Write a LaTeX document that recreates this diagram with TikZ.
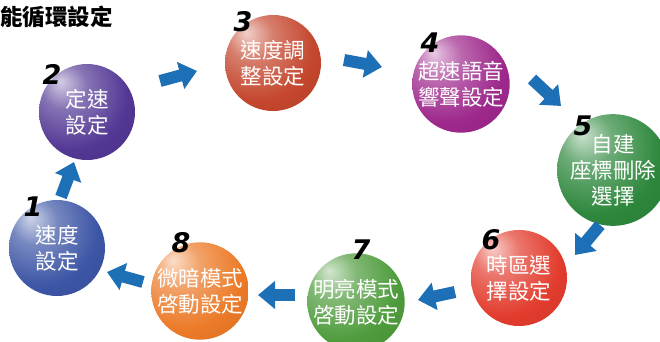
\documentclass[tikz,border=0pt]{standalone}
\usepackage{fontspec}
\newfontfamily\cjk{Noto Sans CJK TC}
\newfontfamily\digitfont{DejaVu Sans}
\usetikzlibrary{arrows.meta}

\definecolor{arrowblue}{RGB}{29,112,181}
\definecolor{cA}{RGB}{60,85,165}
\definecolor{cB}{RGB}{82,55,148}
\definecolor{cC}{RGB}{196,70,45}
\definecolor{cD}{RGB}{158,40,140}
\definecolor{cE}{RGB}{45,135,60}
\definecolor{cF}{RGB}{226,60,45}
\definecolor{cG}{RGB}{78,155,60}
\definecolor{cH}{RGB}{236,122,40}
\colorlet{mycol}{blue}
\pgfdeclareradialshading[mycol]{myball}{\pgfqpoint{-14bp}{16bp}}{%
  color(0bp)=(mycol!25!white); color(12bp)=(mycol!70!white);
  color(30bp)=(mycol); color(55bp)=(mycol!85!black); color(80bp)=(mycol!70!black)}

\tikzset{
  ballnode/.style={circle, minimum size=96pt, inner sep=0pt,
    /utils/exec={\colorlet{mycol}{#1}}, shading=myball,
    text=white, font=\cjk\fontsize{21.5}{26}\selectfont, align=center},
  digitnode/.style={inner sep=0pt, text=black,
    font=\digitfont\bfseries\itshape\fontsize{27}{27}\selectfont},
  flow/.style={draw=arrowblue, line width=12pt,
    -{Triangle[width=27pt,length=17pt]}},
}

\begin{document}
\begin{tikzpicture}[x=1pt,y=-1pt]
\useasboundingbox (0,0) rectangle (660,342);
\clip (0,0) rectangle (660,342);

\node[anchor=west, inner sep=0pt, font=\cjk\bfseries\fontsize{22.5}{22.5}\selectfont] (title) at (0,17) {能循環設定};

\node[ballnode=cA] (c1) at (57,248) {速度\\設定};
\node[ballnode=cB] (c2) at (87,112) {定速\\設定};
\node[ballnode=cC] (c3) at (273,63) {速度調\\整設定};
\node[ballnode=cD] (c4) at (461,84) {超速語音\\響聲設定};
\node[ballnode=cE] (c5) at (613,170) {自建\\座標刪除\\選擇};
\node[ballnode=cF] (c6) at (519,278) {時區選\\擇設定};
\node[ballnode=cG] (c7) at (356,302) {明亮模式\\啓動設定};
\node[ballnode=cH] (c8) at (200,291) {微暗模式\\啓動設定};

\node[digitnode] (n1) at (33,207) {1};
\node[digitnode] (n2) at (52,74) {2};
\node[digitnode] (n3) at (243,22) {3};
\node[digitnode] (n4) at (430,43) {4};
\node[digitnode] (n5) at (583,126) {5};
\node[digitnode] (n6) at (491,240) {6};
\node[digitnode] (n7) at (361,250) {7};
\node[digitnode] (n8) at (181,243) {8};

\coordinate (a1t) at (61,197);  \coordinate (a1h) at (74,162);
\coordinate (a2t) at (160,81);  \coordinate (a2h) at (197,71);
\coordinate (a3t) at (344,60);  \coordinate (a3h) at (382,67);
\coordinate (a4t) at (532,79);  \coordinate (a4h) at (561,106);
\coordinate (a5t) at (600,225); \coordinate (a5h) at (575,255);
\coordinate (a6t) at (455,292); \coordinate (a6h) at (418,300);
\coordinate (a7t) at (295,295); \coordinate (a7h) at (258,295);
\coordinate (a8t) at (143,282); \coordinate (a8h) at (107,272);

\draw[flow] (a1t) -- (a1h);
\draw[flow] (a2t) -- (a2h);
\draw[flow] (a3t) -- (a3h);
\draw[flow] (a4t) -- (a4h);
\draw[flow] (a5t) -- (a5h);
\draw[flow] (a6t) -- (a6h);
\draw[flow] (a7t) -- (a7h);
\draw[flow] (a8t) -- (a8h);
\end{tikzpicture}
\end{document}
